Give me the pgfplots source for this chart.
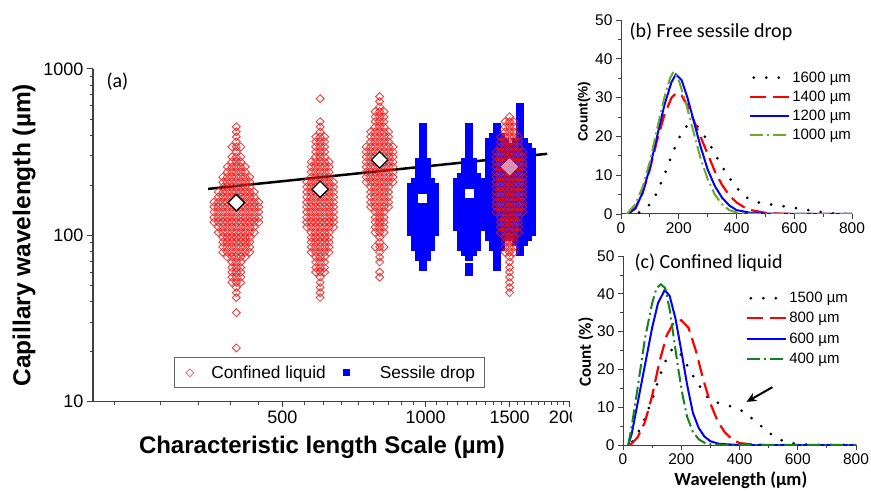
\documentclass[border=0pt]{standalone}
\usepackage{fontspec}
\setmainfont{Liberation Sans}
\newfontfamily\calfont{Carlito}
\usepackage{pgfplots}
\pgfplotsset{compat=1.18}
\usepackage{pgfplotstable}
\usetikzlibrary{arrows.meta}

\definecolor{axgray}{RGB}{64,64,64}
\definecolor{sred}{RGB}{240,20,20}
\definecolor{sblue}{RGB}{0,0,255}
\definecolor{bgreen}{RGB}{110,170,40}
\definecolor{cgreen}{RGB}{20,130,30}
\newcommand{\fs}[2]{\fontsize{#1}{#2}\selectfont}

% panel (a): one row per wavelength level, w = points on each side of the column centre
\pgfplotstableread{
y    wA wB wC wD bA bB bC bD
682  -1 -1  0 -1 -1 -1 -1 -1
663  -1  0 -1 -1 -1 -1 -1 -1
636  -1 -1  0 -1 -1 -1 -1 -1
593  -1 -1  0 -1 -1 -1 -1  0
554  -1 -1  1 -1 -1 -1 -1  0
516  -1 -1  1  0 -1 -1 -1  0
482  -1  0  1  1 -1 -1 -1  0
449   0  0  1  1  0  0  0  0
419   0  0  2  1  0  0  0  0
391   0  1  2  2  0  0  1  0
365   0  1  2  2  0  0  2  1
340   1  1  3  2  0  0  2  2
317   0  1  3  3  0  0  2  3
296   1  1  3  3  0  0  2  3
276   1  2  3  3  1  1  2  3
258   2  2  3  3  1  1  2  3
240   2  2  3  3  1  1  2  3
224   3  2  3  3  1  2  2  3
209   3  3  3  3  2  3  2  3
195   3  3  2  3  3  3  2  3
182   4  3  2  3  3  3  2  3
170   4  3  2  3  3  3  2  3
158   5  3  2  3  3  3  2  3
148   5  3  2  3  3  3  2  3
138   5  3  1  3  3  3  2  3
128   5  3  1  2  3  3  2  3
120   5  3  1  2  3  3  2  3
112   4  3  1  2  3  3  2  3
104   4  2  1  2  3  2  2  3
97    3  2  0  1  2  2  2  2
91    3  2  0  1  2  2  1  1
85    3  2  1  1  2  2  1  0
79    3  2  0  1  1  1  0  0
74    2  1  0  0  1  0  0 -1
69    1  1  0  0  0 -1  0 -1
64    1  1 -1  0  0  0  0 -1
60    1  1  0  0 -1  0 -1 -1
56    1  0  0  0 -1 -1 -1 -1
52    1  0 -1  0 -1 -1 -1 -1
48.5  0  0 -1  0 -1 -1 -1 -1
45.2  0  0 -1  0 -1 -1 -1 -1
42.2  0  0 -1 -1 -1 -1 -1 -1
34.2  0 -1 -1 -1 -1 -1 -1 -1
21    0 -1 -1 -1 -1 -1 -1 -1
}\swarm

% #1 column centre, #2 width column, #3 list of side offsets
\newcommand{\redswarm}[3]{%
  \pgfplotsinvokeforeach{#3}{%
    \addplot[forget plot, sred, only marks, mark=square, mark size=2.8pt,
      mark options={xshift=##1*4.5pt, rotate=45, draw=sred, draw opacity=0.85, line width=0.85pt}]
      table[x expr={#1}, y=y, restrict expr to domain={\thisrow{#2}-abs(##1)}{0:99}] {\swarm};
  }}
\newcommand{\blueswarm}[3]{%
  \pgfplotsinvokeforeach{#3}{%
    \addplot[forget plot, sblue, only marks, mark=square*, mark size=3.5pt,
      mark options={xshift=##1*4pt, fill=sblue, draw=sblue, line width=0pt}]
      table[x expr={#1}, y=y, restrict expr to domain={\thisrow{#2}-abs(##1)}{0:99}] {\swarm};
  }}

\tikzset{
  dotb/.style={black, line width=3pt, line cap=round, dash pattern=on 0pt off 12.5pt, dash phase=8.5pt},
  dashr/.style={red, line width=2.2pt, dash pattern=on 16pt off 7pt},
  solb/.style={blue, line width=2pt},
}
\pgfplotsset{
  legmarkA/.style={legend image code/.code={\draw[##1] plot coordinates {(8.5pt,0pt)};
    \path[draw=none, fill=none] (0pt,0pt) rectangle (17pt,0.1pt);}},
  legmarkB/.style={legend image code/.code={\draw[##1] plot coordinates {(8.5pt,0pt)};
    \path[draw=none, fill=none] (0pt,0pt) rectangle (29pt,0.1pt);}},
  distax/.style={scale only axis, axis lines=left,
  axis line style={-, line width=1pt, axgray},
  xmin=0, xmax=800, ymin=0, ymax=50,
  xtick={0,200,400,600,800}, minor xtick={100,300,500,700},
  ytick={0,10,20,30,40,50}, minor ytick={5,15,25,35,45},
  tick align=outside, major tick length=5pt, minor tick length=3pt,
  tick style={line width=0.8pt, axgray},
  /pgf/number format/assume math mode=true,
  tick label style={font=\fs{15.5}{17}},
  legend cell align=left,
  legend style={draw=none, fill=none, anchor=north west, font=\fs{15}{17}, inner sep=0pt, row sep=3pt},
  legend image code/.code={\draw[##1] (0pt,0pt) -- (39pt,0pt);},
}}

\begin{document}
\begin{tikzpicture}
\path[use as bounding box] (0,0) rectangle (871pt,491pt);

\begin{axis}[at={(93pt,89.5pt)}, anchor=south west, scale only axis,
  width=476pt, height=332.5pt,
  xmode=log, ymode=log, xmin=200, xmax=2000, ymin=10, ymax=1000,
  axis lines=left, axis line style={-, line width=1.2pt, axgray},
  tick align=outside, major tick length=6pt, minor tick length=3.5pt,
  tick style={line width=1pt, axgray},
  xtick={500,1000,1500,2000}, xticklabels={500,1000,1500,2000},
  minor xtick={222.2,277.8,333.3,388.9,444.4,555.6,611.1,666.7,722.2,777.8,833.3,888.9,944.4,
    1055.6,1111.1,1166.7,1222.2,1277.8,1333.3,1388.9,1444.4,1555.6,1611.1,1666.7,1722.2,1777.8,1833.3,1888.9,1944.4},
  ytick={10,100,1000}, yticklabels={10,100,1000},
  minor ytick={20,30,40,50,60,70,80,90,200,300,400,500,600,700,800,900},
  tick label style={font=\fs{18}{20}},
  xlabel={Characteristic length Scale (µm)},
  ylabel={Capillary wavelength (µm)},
  xlabel style={at={(axis description cs:0.481,-0.139)}, anchor=center, font=\bfseries\fs{24}{26}},
  ylabel style={at={(axis description cs:-0.145,0.5)}, anchor=center, font=\bfseries\fs{24.5}{26}},
  legend columns=2,
  legend style={at={(axis description cs:0.170,0.1325)}, anchor=north west,
    draw=axgray!80, line width=0.8pt, font=\fs{17.3}{19}, inner xsep=7pt, inner ysep=6pt,
    /tikz/every even column/.append style={column sep=10pt},
    /tikz/every odd column/.append style={column sep=11pt}},
]
\addlegendimage{legmarkA, only marks, mark=square, mark size=2.8pt, mark options={rotate=45, draw=sred!70!white, line width=0.7pt}}
\addlegendentry{Confined liquid}
\addlegendimage{legmarkB, only marks, mark=square*, mark size=3pt, mark options={fill=sblue, draw=sblue}}
\addlegendentry{Sessile drop}

\blueswarm{985}{bA}{-3,-2,...,3}
\blueswarm{1235}{bB}{-3,-2,...,3}
\blueswarm{1415}{bC}{-2,-1,...,2}
\blueswarm{1575}{bD}{-3,-2,...,3}
\addplot[forget plot, only marks, mark=square*, mark size=4pt, mark options={fill=white, draw=white}]
  coordinates {(985,167) (1235,180)};

\redswarm{400}{wA}{-5,-4,...,5}
\redswarm{600}{wB}{-3,-2,...,3}
\redswarm{800}{wC}{-3,-2,...,3}
\redswarm{1500}{wD}{-3,-2,...,3}

\addplot[forget plot, black, line width=2.5pt] coordinates {(349,190) (1800,309)};

\addplot[forget plot, only marks, mark=square*, mark size=5.8pt,
  mark options={rotate=45, fill=white, draw=black, line width=1.3pt}]
  coordinates {(400,157) (600,189) (800,284)};
\addplot[forget plot, only marks, mark=square*, mark size=5.8pt,
  mark options={rotate=45, fill=white, fill opacity=0.55, draw=white, draw opacity=0.6}]
  coordinates {(1500,258)};
\end{axis}

\fill[white] (572pt,0pt) rectangle (871pt,491pt);

% panel (b)
\begin{axis}[distax, at={(621pt,277pt)}, anchor=south west, width=231pt, height=194pt,
  ylabel={Count(\%)},
  ylabel style={at={(axis description cs:-0.160,0.526)}, anchor=center, font=\bfseries\fs{13.5}{15}},
  legend style={at={(axis description cs:0.55,0.745)}},
]
\addplot[dotb] coordinates {(50,0) (75,0.8) (100,2.5) (125,5.5) (150,10) (175,15) (200,19.5) (225,22.5)
  (245,23.3) (265,22.5) (290,20) (315,17) (340,13.5) (365,10.5) (390,7.8) (415,5.5) (440,4) (475,3)
  (525,2.4) (575,1.9) (625,1.3) (675,0.7) (725,0.2) (775,0) (800,0)};
\addlegendentry{1600 µm}
\addplot[dashr] coordinates {(25,0) (50,1.5) (75,5.5) (100,11.5) (125,19) (150,25.5) (175,30) (192,31.2)
  (210,30.5) (230,28) (250,24.5) (275,20) (300,15.5) (325,11) (350,7.5) (375,4.8) (400,3) (425,1.8)
  (450,1) (500,0.3) (550,0.1) (600,0) (800,0)};
\addlegendentry{1400 µm}
\addplot[solb] coordinates {(25,0) (50,1.5) (75,5.5) (100,12) (125,20) (150,28) (175,34) (190,36)
  (210,34.5) (230,30) (250,24.5) (275,17.5) (300,11.5) (325,7.2) (350,4.2) (375,2.2) (400,1.0)
  (450,0.3) (500,0.1) (600,0) (800,0)};
\addlegendentry{1200 µm}
\addplot[bgreen, line width=2pt, dash pattern=on 13pt off 4pt on 2pt off 4pt] coordinates {(20,0) (50,2.5)
  (75,7) (100,13.5) (125,22) (150,30) (170,35) (182,36.7) (200,34.5) (225,28.5) (250,21.5) (275,14.5)
  (300,9) (325,5) (350,2.5) (375,1.0) (400,0.4) (450,0.1) (500,0) (800,0)};
\addlegendentry{1000 µm}
\end{axis}

% panel (c)
\begin{axis}[distax, at={(623pt,46pt)}, anchor=south west, width=233pt, height=189pt,
  xlabel={Wavelength (µm)}, ylabel={Count (\%)},
  xlabel style={at={(axis description cs:0.506,-0.185)}, anchor=center, font=\calfont\bfseries\fs{18.5}{20}},
  ylabel style={at={(axis description cs:-0.159,0.492)}, anchor=center, font=\calfont\bfseries\fs{17}{19}},
  legend style={at={(axis description cs:0.524,0.82)}, row sep=4.2pt},
]
\addplot[dotb] coordinates {(25,0) (50,3) (75,7) (100,12) (125,18) (150,23) (170,25.5) (190,25)
  (210,22.5) (235,19) (260,16) (285,13) (310,11.5) (335,11) (360,10.5) (385,9.8) (410,9) (435,7.5)
  (460,6) (485,4.3) (510,2.8) (535,1.5) (560,0.8) (600,0.3) (650,0) (800,0)};
\addlegendentry{1500 µm}
\addplot[dashr] coordinates {(25,0) (50,2) (75,6) (100,13) (125,22) (150,29) (175,32.5) (200,33)
  (225,31) (250,25) (275,17.5) (300,11) (325,6.3) (350,3.3) (375,1.5) (400,0.5) (450,0.1) (500,0) (800,0)};
\addlegendentry{800 µm}
\addplot[solb] coordinates {(18,0) (30,3) (50,11) (75,21) (100,31) (120,37.5) (143,41) (160,39.5)
  (180,33.5) (200,25) (220,16) (240,8.5) (260,4.5) (280,2.2) (300,1.0) (330,0.3) (400,0) (800,0)};
\addlegendentry{600 µm}
\addplot[cgreen, line width=2pt, dash pattern=on 13pt off 4pt on 2pt off 4pt] coordinates {(18,0) (30,5)
  (50,15) (75,28) (100,37.5) (115,41.5) (130,42.5) (145,41.5) (160,36) (175,28) (190,20) (205,13)
  (220,7.5) (240,3.5) (260,1.5) (280,0.6) (300,0.2) (350,0) (800,0)};
\addlegendentry{400 µm}
\draw[black, line width=2pt, -{Stealth[length=10pt, width=9pt]}] (axis cs:513,15.3) -- (axis cs:424,11.4);
\end{axis}

\node[anchor=west, font=\calfont\fs{20}{22}] at (103pt,409pt) {(a)};
\node[anchor=west, font=\calfont\fs{20}{22}] at (626pt,459pt) {(b) Free sessile drop};
\node[anchor=west, font=\calfont\fs{20}{22}] at (631pt,228pt) {(c) Confined liquid};
\end{tikzpicture}
\end{document}
